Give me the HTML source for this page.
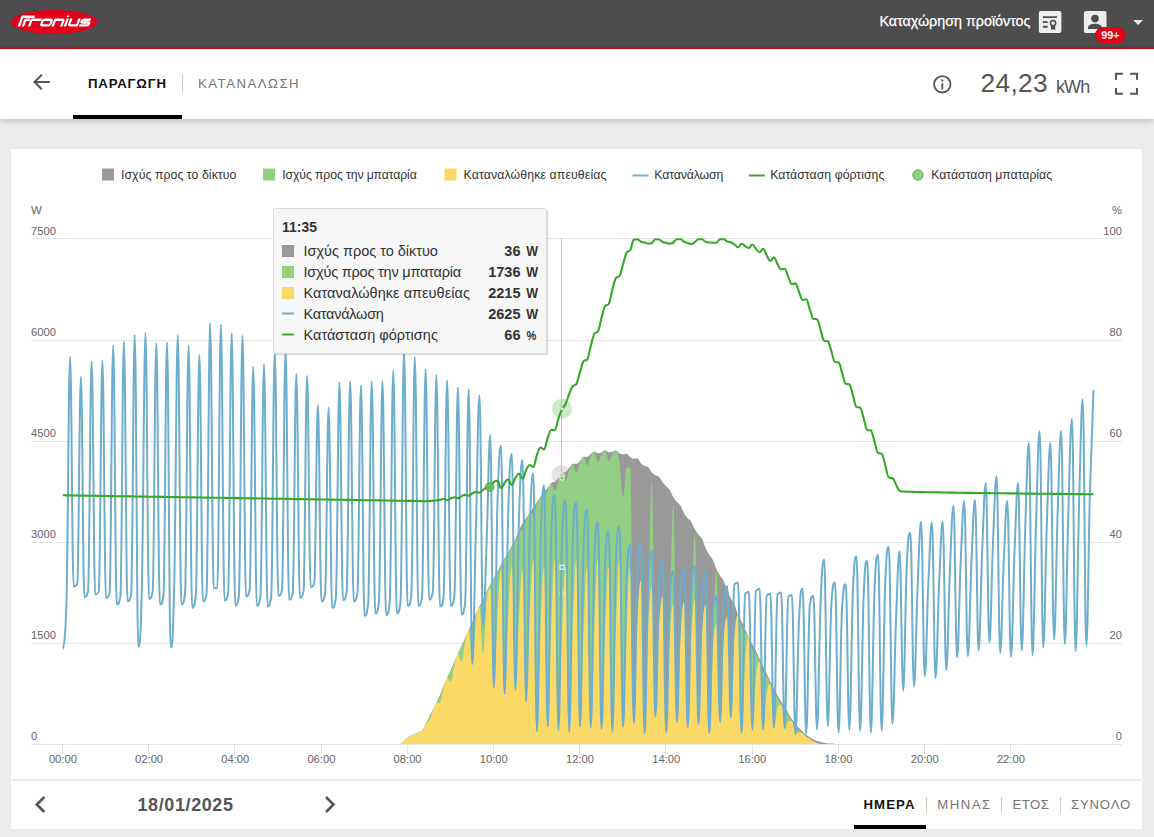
<!DOCTYPE html>
<html lang="el">
<head>
<meta charset="utf-8">
<title>Fronius Solar.web</title>
<style>
*{box-sizing:border-box;margin:0;padding:0}
html,body{width:1154px;height:837px;overflow:hidden;background:#ebeded;font-family:"Liberation Sans",sans-serif;}
#top{position:absolute;left:0;top:0;width:1154px;height:47px;background:#4d4d4d;}
#redline{position:absolute;left:0;top:47px;width:1154px;height:2px;background:#e2001a;}
#sub{position:absolute;left:0;top:49px;width:1154px;height:70px;background:#fff;box-shadow:0 2px 7px rgba(0,0,0,0.2);}
#panel{position:absolute;left:11px;top:149px;width:1131px;height:680px;background:#fff;}
.abs{position:absolute;white-space:nowrap;}
#reg{left:879.5px;top:12px;color:#fff;font-size:14.3px;line-height:18px;-webkit-text-stroke:0.25px #fff}
.tab{font-size:13.2px;letter-spacing:1.1px;line-height:16px;}
#tab1{left:88px;top:75.5px;font-weight:bold;color:#111;letter-spacing:0.8px}
#tab2{left:198px;top:75.5px;color:#757575;letter-spacing:1.5px}
#tabsep{left:182px;top:74px;width:1px;height:19px;background:#ccc;}
#tabline{left:73px;top:115px;width:109px;height:4px;background:#000;}
#kwh{left:980.5px;top:66.5px;color:#555;font-size:26.3px;line-height:32px;letter-spacing:0.35px}
#kwhu{left:1056px;top:71px;color:#555;font-size:18px;line-height:32px;letter-spacing:-0.9px}
#kwh span{font-size:16.7px;letter-spacing:0;margin-left:1px}
#date{left:137.5px;top:794.5px;font-size:18px;letter-spacing:0.6px;font-weight:bold;color:#555;line-height:20px;}
.btab{font-size:13.2px;letter-spacing:1.1px;line-height:16px;top:796.5px;color:#757575}
#b1{left:863.5px;font-weight:bold;color:#111}
#b2{left:937.2px;letter-spacing:1.5px}
#b3{left:1012.6px;letter-spacing:0.45px}
#b4{left:1071px;letter-spacing:0.8px}
.bsep{top:796.5px;width:1px;height:16px;background:#ccc}
#bline{left:854px;top:824.5px;width:72px;height:4.5px;background:#000}
#divider{left:11px;top:779px;width:1131px;height:2px;background:#ebebeb}
svg{position:absolute;left:0;top:0}
svg text{font-family:"Liberation Sans",sans-serif;}
</style>
</head>
<body>
<div id="top"></div>
<div id="redline"></div>
<div id="sub"></div>
<div id="panel"></div>
<div class="abs" id="reg">Καταχώρηση προϊόντος</div>
<div class="abs tab" id="tab1">ΠΑΡΑΓΩΓΗ</div>
<div class="abs" id="tabsep"></div>
<div class="abs tab" id="tab2">ΚΑΤΑΝΑΛΩΣΗ</div>
<div class="abs" id="tabline"></div>
<div class="abs" id="kwh">24,23</div><div class="abs" id="kwhu">kWh</div>
<div class="abs" id="divider"></div>
<div class="abs" id="date">18/01/2025</div>
<div class="abs btab" id="b1">ΗΜΕΡΑ</div>
<div class="abs bsep" style="left:926px"></div>
<div class="abs btab" id="b2">ΜΗΝΑΣ</div>
<div class="abs bsep" style="left:1001px"></div>
<div class="abs btab" id="b3">ΕΤΟΣ</div>
<div class="abs bsep" style="left:1060px"></div>
<div class="abs btab" id="b4">ΣΥΝΟΛΟ</div>
<div class="abs" id="bline"></div>

<svg width="1154" height="837" viewBox="0 0 1154 837">
<!-- logo -->
<ellipse cx="54" cy="21.9" rx="43.2" ry="12" fill="#e2001a"/>
<g transform="translate(0,26.4) skewX(-19.8) translate(0,-26.4)" fill="none" stroke="#fff" stroke-width="2.35" stroke-linejoin="round">
<path d="M18.9 26.5V16.75H31.2"/>
<path d="M22.9 26.5V19.7H27.4"/>
<path d="M29.1 26.5V19.7H39.2"/>
<rect x="40.6" y="19.7" width="9" height="5.6" rx="1.5"/>
<path d="M52.7 26.5V19.7H59.7Q61.3 19.7 61.3 21.2V26.5"/>
<path d="M64.9 18.5V26.5M64.5 15.6V17"/>
<path d="M68.5 18.5V23.8Q68.5 25.3 70.1 25.3H76.7V18.5"/>
<path d="M88.4 19.7H81.3Q79.8 19.7 79.8 21.1Q79.8 22.5 81.3 22.5H86.6Q88.1 22.5 88.1 23.9Q88.1 25.3 86.6 25.3H79"/>
</g>

<!-- top icons -->
<g>
<rect x="1038.8" y="11" width="22.6" height="22" rx="2" fill="#ededed"/>
<g stroke="#4d4d4d" stroke-width="1.9" fill="none">
<path d="M1042.9 17.1H1056.9M1042.9 22.1H1047.7M1042.9 26.8H1047.7"/>
</g>
<path d="M1051 25.5V30.3L1053.1 28.9L1055.2 30.3V25.5Z" fill="#4d4d4d"/>
<circle cx="1053.1" cy="23.1" r="2.6" fill="#ededed" stroke="#4d4d4d" stroke-width="1.5"/>
<rect x="1083.9" y="11" width="22.6" height="22" rx="2" fill="#ededed"/>
<circle cx="1095" cy="18.6" r="3.8" fill="#4d4d4d"/>
<path d="M1088 29V27.6C1088 25 1092 23.7 1095 23.7C1098 23.7 1102 25 1102 27.6V29Z" fill="#4d4d4d"/>
<rect x="1095" y="27.1" width="30.6" height="15.8" rx="7.9" fill="#e2001a"/>
<text x="1110.3" y="38.6" font-size="10.8" font-weight="bold" fill="#fff" text-anchor="middle">99+</text>
<path d="M1133.2 19.9H1143L1138.1 25Z" fill="#ececec"/>
</g>

<!-- grid -->
<g stroke="#e6e6e6" stroke-width="1" shape-rendering="crispEdges">
<line x1="31" y1="238.5" x2="1122" y2="238.5"/>
<line x1="31" y1="340.5" x2="1122" y2="340.5"/>
<line x1="31" y1="441.5" x2="1122" y2="441.5"/>
<line x1="31" y1="542.5" x2="1122" y2="542.5"/>
<line x1="31" y1="643.5" x2="1122" y2="643.5"/>
<line x1="31" y1="744.5" x2="1122" y2="744.5"/>
</g>
<g stroke="#e0e0e0" stroke-width="1" shape-rendering="crispEdges">
<line x1="62.5" y1="745" x2="62.5" y2="754"/>
<line x1="148.5" y1="745" x2="148.5" y2="754"/>
<line x1="234.5" y1="745" x2="234.5" y2="754"/>
<line x1="321.5" y1="745" x2="321.5" y2="754"/>
<line x1="407.5" y1="745" x2="407.5" y2="754"/>
<line x1="493.5" y1="745" x2="493.5" y2="754"/>
<line x1="579.5" y1="745" x2="579.5" y2="754"/>
<line x1="665.5" y1="745" x2="665.5" y2="754"/>
<line x1="752.5" y1="745" x2="752.5" y2="754"/>
<line x1="838.5" y1="745" x2="838.5" y2="754"/>
<line x1="924.5" y1="745" x2="924.5" y2="754"/>
<line x1="1010.5" y1="745" x2="1010.5" y2="754"/>

</g>
<g font-size="11.2" fill="#666">
<text x="31" y="214" font-size="11.5">W</text>
<text x="31" y="235.4">7500</text>
<text x="31" y="336.4">6000</text>
<text x="31" y="437.4">4500</text>
<text x="31" y="538.4">3000</text>
<text x="31" y="639.4">1500</text>
<text x="31" y="740.4">0</text>
<g text-anchor="end">
<text x="1122" y="214">%</text>
<text x="1122" y="235.4">100</text>
<text x="1122" y="336.4">80</text>
<text x="1122" y="437.4">60</text>
<text x="1122" y="538.4">40</text>
<text x="1122" y="639.4">20</text>
<text x="1122" y="740.4">0</text>
</g>
<g text-anchor="middle">
<text x="62.9" y="763">00:00</text>
<text x="149.1" y="763">02:00</text>
<text x="235.3" y="763">04:00</text>
<text x="321.4" y="763">06:00</text>
<text x="407.6" y="763">08:00</text>
<text x="493.8" y="763">10:00</text>
<text x="580.0" y="763">12:00</text>
<text x="666.2" y="763">14:00</text>
<text x="752.3" y="763">16:00</text>
<text x="838.5" y="763">18:00</text>
<text x="924.7" y="763">20:00</text>
<text x="1010.9" y="763">22:00</text>

</g>
</g>
<!-- chart series -->
<rect x="561" y="238" width="1" height="506" fill="#c4c4c4"/>
<path d="M400.5 744.0C400.5 744.0 402.6 742.2 404.0 740.9C405.5 739.7 406.2 738.6 407.6 737.6C409.1 736.5 409.8 736.3 411.2 735.6C412.7 734.9 413.4 734.7 414.8 734.0C416.3 733.4 417.0 733.0 418.4 732.4C419.8 731.7 420.6 732.3 422.0 730.7C423.4 729.1 424.2 727.0 425.6 724.2C427.0 721.4 427.7 719.7 429.2 716.9C430.6 714.1 431.3 712.9 432.8 710.2C434.2 707.5 434.9 706.5 436.4 703.5C437.8 700.4 438.5 698.4 440.0 695.0C441.4 691.5 442.1 689.7 443.5 686.2C445.0 682.8 445.7 681.1 447.1 677.9C448.6 674.6 449.3 673.1 450.7 669.9C452.2 666.7 452.9 665.1 454.3 661.9C455.8 658.7 456.5 657.1 457.9 653.9C459.3 650.7 460.1 649.1 461.5 645.9C462.9 642.8 463.7 641.2 465.1 638.0C466.5 634.8 467.2 633.2 468.7 630.0C470.1 626.8 470.8 625.2 472.3 622.0C473.7 618.8 474.4 617.2 475.9 614.0C477.3 610.8 478.0 609.1 479.5 606.1C480.9 603.1 481.6 601.8 483.0 598.9C484.5 596.0 485.2 594.6 486.6 591.7C488.1 588.9 488.8 587.3 490.2 584.5C491.7 581.8 492.4 580.6 493.8 578.0C495.3 575.4 496.0 574.1 497.4 571.6C498.8 569.0 499.6 567.7 501.0 565.1C502.4 562.5 503.2 561.2 504.6 558.6C506.0 556.0 506.7 554.8 508.2 552.2C509.6 549.6 510.3 548.3 511.8 545.7C513.2 543.1 513.9 542.3 515.4 539.2C516.8 536.1 517.5 533.3 519.0 530.2C520.4 527.1 521.1 526.1 522.5 523.7C524.0 521.3 524.7 520.4 526.1 518.3C527.6 516.1 528.3 515.1 529.7 512.9C531.2 510.8 531.9 509.7 533.3 507.5C534.8 505.4 535.5 504.3 536.9 502.1C538.3 500.0 539.1 498.9 540.5 496.7C541.9 494.6 542.7 493.1 544.1 491.4C545.5 489.6 546.2 489.6 547.7 487.9C549.1 486.2 549.8 484.0 551.3 482.9C552.7 481.8 553.4 482.8 554.9 481.8C556.3 480.8 557.0 479.8 558.5 478.0C559.9 476.3 560.6 474.1 562.0 473.0C563.5 471.9 564.2 472.9 565.6 471.9C567.1 470.9 567.8 469.7 569.2 468.1C570.7 466.5 571.4 464.0 572.8 463.9C574.3 463.7 575.0 463.9 576.4 463.7C577.8 463.6 578.6 462.3 580.0 460.9C581.4 459.5 582.2 457.0 583.6 456.8C585.0 456.7 585.7 456.8 587.2 456.7C588.6 456.6 589.3 454.9 590.8 453.9C592.2 452.8 592.9 451.4 594.4 451.4C595.8 451.4 596.5 453.2 598.0 453.2C599.4 453.2 600.1 452.9 601.5 452.4C603.0 451.8 603.7 450.3 605.1 450.3C606.6 450.3 607.3 452.2 608.7 452.2C610.2 452.2 610.9 452.2 612.3 451.8C613.8 451.4 614.5 450.2 615.9 450.2C617.4 450.2 618.1 452.7 619.5 453.5C620.9 454.2 621.7 454.2 623.1 454.2C624.5 454.2 625.3 453.8 626.7 453.8C628.1 453.8 628.8 456.6 630.3 457.6C631.7 458.6 632.4 458.7 633.9 458.7C635.3 458.7 636.0 458.6 637.5 458.6C638.9 458.6 639.6 462.1 641.1 463.6C642.5 465.1 643.2 465.3 644.6 466.0C646.1 466.7 646.8 466.0 648.2 467.2C649.7 468.4 650.4 470.8 651.8 472.4C653.3 473.9 654.0 474.3 655.4 475.2C656.9 476.1 657.6 475.4 659.0 476.8C660.4 478.2 661.2 480.4 662.6 482.3C664.0 484.3 664.8 484.9 666.2 486.4C667.6 487.9 668.3 487.7 669.8 489.9C671.2 492.1 671.9 494.9 673.4 497.3C674.8 499.7 675.5 500.4 677.0 502.1C678.4 503.8 679.1 503.5 680.6 505.8C682.0 508.0 682.7 510.9 684.1 513.4C685.6 515.9 686.3 516.5 687.7 518.3C689.2 520.0 689.9 519.7 691.3 521.9C692.8 524.2 693.5 527.0 694.9 529.5C696.4 532.0 697.1 532.5 698.5 534.4C699.9 536.3 700.7 536.3 702.1 539.0C703.5 541.8 704.3 545.1 705.7 548.2C707.1 551.4 707.8 552.4 709.3 554.7C710.7 557.1 711.4 557.1 712.9 560.0C714.3 562.9 715.0 566.1 716.5 569.3C717.9 572.4 718.6 573.4 720.1 575.8C721.5 578.1 722.2 578.0 723.6 581.1C725.1 584.1 725.8 587.4 727.2 590.8C728.7 594.2 729.4 595.5 730.8 598.2C732.3 600.9 733.0 601.2 734.4 604.4C735.9 607.7 736.6 611.1 738.0 614.5C739.4 617.9 740.2 618.5 741.6 621.5C743.0 624.5 743.8 626.3 745.2 629.4C746.6 632.6 747.3 634.3 748.8 637.3C750.2 640.3 750.9 641.5 752.4 644.3C753.8 647.0 754.5 648.2 756.0 651.1C757.4 654.0 758.1 655.8 759.6 658.8C761.0 661.9 761.7 663.3 763.1 666.3C764.6 669.3 765.3 670.8 766.7 673.7C768.2 676.7 768.9 678.2 770.3 681.2C771.8 684.1 772.5 685.7 773.9 688.6C775.4 691.4 776.1 692.9 777.5 695.5C778.9 698.0 779.7 699.0 781.1 701.4C782.5 703.7 783.3 704.9 784.7 707.3C786.1 709.6 786.8 710.8 788.3 713.2C789.7 715.5 790.4 716.8 791.9 719.1C793.3 721.3 794.0 722.6 795.5 724.4C796.9 726.1 797.6 726.5 799.1 728.0C800.5 729.4 801.2 730.2 802.6 731.5C804.1 732.9 804.8 733.7 806.2 734.8C807.7 735.9 808.4 736.2 809.8 737.2C811.3 738.1 812.0 738.8 813.4 739.6C814.9 740.3 815.6 740.6 817.0 741.1C818.4 741.5 819.2 741.6 820.6 741.9C822.0 742.2 822.8 742.4 824.2 742.7C825.6 743.0 826.3 743.2 827.8 743.4C829.2 743.6 829.9 743.5 831.4 743.6C832.8 743.7 833.5 743.8 835.0 743.9C836.4 744.0 838.6 744.0 838.6 744.0L838.6 744.0 L400.5 744.0 Z" fill="#999999"/>
<circle cx="561.5" cy="475" r="10" fill="#999" opacity="0.28"/>
<circle cx="562" cy="475.3" r="2.3" fill="#999" stroke="#fff" stroke-width="1"/>
<path d="M400.5 744.0C400.5 744.0 402.6 742.2 404.0 740.9C405.5 739.7 406.2 738.6 407.6 737.6C409.1 736.6 409.8 736.7 411.2 736.0C412.7 735.2 413.4 734.7 414.8 734.0C416.3 733.3 417.0 732.9 418.4 732.4C419.8 731.8 420.6 732.4 422.0 731.2C423.4 730.1 424.2 726.9 425.6 724.2C427.0 721.5 427.7 720.4 429.2 717.7C430.6 715.1 431.3 713.9 432.8 711.0C434.2 708.2 434.9 706.5 436.4 703.5C437.8 700.4 438.5 699.1 440.0 695.8C441.4 692.5 442.1 690.6 443.5 687.0C445.0 683.5 445.7 681.1 447.1 677.9C448.6 674.6 449.3 673.7 450.7 670.7C452.2 667.7 452.9 666.1 454.3 662.7C455.8 659.4 456.5 657.1 457.9 653.9C459.3 650.7 460.1 649.8 461.5 646.7C462.9 643.7 463.7 642.1 465.1 638.8C466.5 635.4 467.2 633.2 468.7 630.0C470.1 626.8 470.8 625.8 472.3 622.8C473.7 619.8 474.4 618.0 475.9 614.8C477.3 611.6 478.0 609.9 479.5 606.9C480.9 603.9 481.6 602.6 483.0 599.7C484.5 596.8 485.2 595.4 486.6 592.5C488.1 589.7 488.8 588.1 490.2 585.3C491.7 582.6 492.4 581.4 493.8 578.8C495.3 576.2 496.0 574.9 497.4 572.4C498.8 569.8 499.6 568.5 501.0 565.9C502.4 563.3 503.2 562.0 504.6 559.4C506.0 556.8 506.7 555.6 508.2 553.0C509.6 550.4 510.3 548.8 511.8 546.5C513.2 544.2 513.9 544.6 515.4 541.4C516.8 538.3 517.5 531.7 519.0 530.7C520.4 529.7 521.1 530.7 522.5 529.7C524.0 528.7 524.7 523.7 526.1 520.5C527.6 517.2 528.3 513.4 529.7 513.4C531.2 513.4 531.9 513.5 533.3 513.5C534.8 513.5 535.5 507.6 536.9 504.3C538.3 501.1 539.1 497.2 540.5 497.2C541.9 497.2 542.7 497.4 544.1 497.4C545.5 497.4 546.2 492.9 547.7 490.1C549.1 487.3 549.8 483.4 551.3 483.4C552.7 483.4 553.4 490.6 554.9 490.6C556.3 490.6 557.0 483.6 558.5 480.2C559.9 476.8 560.6 473.5 562.0 473.5C563.5 473.5 564.2 480.7 565.6 480.7C567.1 480.7 567.8 473.6 569.2 470.3C570.7 467.0 571.4 464.4 572.8 464.4C574.3 464.4 575.0 472.5 576.4 472.5C577.8 472.5 578.6 466.1 580.0 463.1C581.4 460.1 582.2 457.3 583.6 457.3C585.0 457.3 585.7 465.5 587.2 465.5C588.6 465.5 589.3 458.8 590.8 456.1C592.2 453.3 592.9 451.9 594.4 451.9C595.8 451.9 596.5 462.0 598.0 462.0C599.4 462.0 600.1 456.8 601.5 454.6C603.0 452.3 603.7 450.8 605.1 450.8C606.6 450.8 607.3 461.0 608.7 461.0C610.2 461.0 610.9 456.1 612.3 454.0C613.8 451.9 614.5 450.7 615.9 450.7C617.4 450.7 618.1 452.9 619.5 462.3C620.9 471.6 621.7 497.5 623.1 497.5C624.5 497.5 625.3 467.5 626.7 467.5C628.1 467.5 628.8 467.5 630.3 467.5C631.7 467.5 632.4 722.9 633.9 722.9C635.3 722.9 636.0 649.0 637.5 620.6C638.9 592.2 639.6 580.8 641.1 580.8C642.5 580.8 643.2 733.1 644.6 733.1C646.1 733.1 646.8 659.8 648.2 609.4C649.7 559.0 650.4 481.2 651.8 481.2C653.3 481.2 654.0 685.9 655.4 685.9C656.9 685.9 657.6 647.7 659.0 629.7C660.4 611.7 661.2 596.0 662.6 596.0C664.0 596.0 664.8 732.6 666.2 732.6C667.6 732.6 668.3 668.1 669.8 622.4C671.2 576.8 671.9 504.5 673.4 504.5C674.8 504.5 675.5 693.6 677.0 693.6C678.4 693.6 679.1 653.9 680.6 635.6C682.0 617.3 682.7 602.0 684.1 602.0C685.6 602.0 686.3 727.5 687.7 727.5C689.2 727.5 689.9 660.9 691.3 622.4C692.8 583.9 693.5 535.0 694.9 535.0C696.4 535.0 697.1 699.4 698.5 699.4C699.9 699.4 700.7 653.7 702.1 634.8C703.5 615.9 704.3 605.1 705.7 605.1C707.1 605.1 707.8 733.1 709.3 733.1C710.7 733.1 711.4 673.5 712.9 641.1C714.3 608.7 715.0 571.3 716.5 571.3C717.9 571.3 718.6 702.2 720.1 702.2C721.5 702.2 722.2 659.8 723.6 642.6C725.1 625.4 725.8 616.2 727.2 616.2C728.7 616.2 729.4 717.5 730.8 717.5C732.3 717.5 733.0 657.5 734.4 636.9C735.9 616.3 736.6 614.5 738.0 614.5C739.4 614.5 740.2 623.5 741.6 627.0C743.0 630.5 743.8 629.9 745.2 631.9C746.6 634.0 747.3 633.7 748.8 637.3C750.2 640.9 750.9 646.5 752.4 649.8C753.8 653.0 754.5 651.3 756.0 653.6C757.4 655.9 758.1 657.7 759.6 661.3C761.0 665.0 761.7 668.8 763.1 671.8C764.6 674.8 765.3 673.9 766.7 676.2C768.2 678.6 768.9 680.1 770.3 683.7C771.8 687.2 772.5 691.2 773.9 694.1C775.4 696.9 776.1 696.0 777.5 698.0C778.9 699.9 779.7 700.9 781.1 703.9C782.5 706.8 783.3 710.4 784.7 712.8C786.1 715.1 786.8 714.0 788.3 715.7C789.7 717.3 790.4 718.2 791.9 721.1C793.3 723.9 794.0 729.3 795.5 729.9C796.9 730.5 797.6 729.9 799.1 730.5C800.5 731.0 801.2 732.3 802.6 733.5C804.1 734.8 804.8 735.7 806.2 736.8C807.7 737.9 808.4 738.2 809.8 739.2C811.3 740.1 812.0 740.8 813.4 741.6C814.9 742.3 815.6 742.6 817.0 743.1C818.4 743.5 819.2 743.8 820.6 743.9C822.0 744.0 822.8 744.0 824.2 744.0C825.6 744.0 826.3 744.0 827.8 744.0C829.2 744.0 829.9 744.0 831.4 744.0C832.8 744.0 833.5 744.0 835.0 744.0C836.4 744.0 838.6 744.0 838.6 744.0L838.6 744.0 L400.5 744.0 Z" fill="#92cf84"/>
<circle cx="562" cy="478" r="2.2" fill="#7cc46c" stroke="#fff" stroke-width="1"/>
<path d="M400.5 744.0C400.5 744.0 402.6 742.2 404.0 740.9C405.5 739.7 406.2 738.6 407.6 737.6C409.1 736.6 409.8 736.7 411.2 736.0C412.7 735.2 413.4 734.7 414.8 734.0C416.3 733.3 417.0 732.9 418.4 732.4C419.8 731.8 420.6 732.4 422.0 731.2C423.4 730.1 424.2 726.2 425.6 724.2C427.0 722.2 427.7 723.8 429.2 721.3C430.6 718.7 431.3 715.1 432.8 711.6C434.2 708.0 434.9 704.1 436.4 703.5C437.8 702.8 438.5 703.5 440.0 702.8C441.4 702.1 442.1 693.5 443.5 688.6C445.0 683.6 445.7 677.9 447.1 677.9C448.6 677.9 449.3 681.7 450.7 681.7C452.2 681.7 452.9 670.7 454.3 665.2C455.8 659.6 456.5 653.9 457.9 653.9C459.3 653.9 460.1 661.6 461.5 661.6C462.9 661.6 463.7 648.5 465.1 642.2C466.5 635.9 467.2 630.0 468.7 630.0C470.1 630.0 470.8 664.0 472.3 664.0C473.7 664.0 474.4 630.2 475.9 618.9C477.3 607.6 478.0 607.6 479.5 607.6C480.9 607.6 481.6 653.5 483.0 653.5C484.5 653.5 485.2 614.5 486.6 601.5C488.1 588.5 488.8 588.5 490.2 588.5C491.7 588.5 492.4 687.8 493.8 687.8C495.3 687.8 496.0 640.4 497.4 616.8C498.8 593.1 499.6 569.5 501.0 569.5C502.4 569.5 503.2 694.0 504.6 694.0C506.0 694.0 506.7 642.9 508.2 617.3C509.6 591.7 510.3 566.2 511.8 566.2C513.2 566.2 513.9 690.2 515.4 690.2C516.8 690.2 517.5 642.2 519.0 618.2C520.4 594.2 521.1 570.2 522.5 570.2C524.0 570.2 524.7 701.5 526.1 701.5C527.6 701.5 528.3 644.8 529.7 616.5C531.2 588.1 531.9 559.8 533.3 559.8C534.8 559.8 535.5 731.5 536.9 731.5C538.3 731.5 539.1 665.5 540.5 632.5C541.9 599.5 542.7 566.5 544.1 566.5C545.5 566.5 546.2 726.5 547.7 726.5C549.1 726.5 549.8 659.6 551.3 626.1C552.7 592.7 553.4 559.2 554.9 559.2C556.3 559.2 557.0 730.2 558.5 730.2C559.9 730.2 560.6 664.9 562.0 632.3C563.5 599.6 564.2 566.9 565.6 566.9C567.1 566.9 567.8 731.5 569.2 731.5C570.7 731.5 571.4 662.5 572.8 628.0C574.3 593.5 575.0 559.0 576.4 559.0C577.8 559.0 578.6 726.5 580.0 726.5C581.4 726.5 582.2 662.7 583.6 630.8C585.0 598.9 585.7 567.0 587.2 567.0C588.6 567.0 589.3 727.8 590.8 727.8C592.2 727.8 592.9 660.3 594.4 626.6C595.8 592.8 596.5 559.1 598.0 559.1C599.4 559.1 600.1 729.0 601.5 729.0C603.0 729.0 603.7 664.1 605.1 631.6C606.6 599.2 607.3 566.7 608.7 566.7C610.2 566.7 610.9 731.5 612.3 731.5C613.8 731.5 614.5 662.7 615.9 628.3C617.4 593.9 618.1 559.5 619.5 559.5C620.9 559.5 621.7 726.7 623.1 726.7C624.5 726.7 625.3 662.5 626.7 630.4C628.1 598.3 628.8 566.2 630.3 566.2C631.7 566.2 632.4 722.9 633.9 722.9C635.3 722.9 636.0 649.0 637.5 620.6C638.9 592.2 639.6 580.8 641.1 580.8C642.5 580.8 643.2 733.1 644.6 733.1C646.1 733.1 646.8 657.6 648.2 628.5C649.7 599.5 650.4 587.9 651.8 587.9C653.3 587.9 654.0 716.5 655.4 716.5C656.9 716.5 657.6 653.8 659.0 629.7C660.4 605.6 661.2 596.0 662.6 596.0C664.0 596.0 664.8 732.6 666.2 732.6C667.6 732.6 668.3 665.8 669.8 640.1C671.2 614.4 671.9 604.1 673.4 604.1C674.8 604.1 675.5 721.8 677.0 721.8C678.4 721.8 679.1 659.5 680.6 635.6C682.0 611.6 682.7 602.0 684.1 602.0C685.6 602.0 686.3 727.5 687.7 727.5C689.2 727.5 689.9 661.0 691.3 635.4C692.8 609.8 693.5 599.6 694.9 599.6C696.4 599.6 697.1 724.0 698.5 724.0C699.9 724.0 700.7 658.6 702.1 634.8C703.5 611.0 704.3 605.1 705.7 605.1C707.1 605.1 707.8 733.1 709.3 733.1C710.7 733.1 711.4 673.3 712.9 651.5C714.3 629.8 715.0 624.3 716.5 624.3C717.9 624.3 718.6 721.8 720.1 721.8C721.5 721.8 722.2 663.7 723.6 642.6C725.1 621.5 725.8 616.2 727.2 616.2C728.7 616.2 729.4 717.5 730.8 717.5C732.3 717.5 733.0 660.9 734.4 640.3C735.9 619.7 736.6 614.5 738.0 614.5C739.4 614.5 740.2 733.0 741.6 733.0C743.0 733.0 743.8 680.4 745.2 661.2C746.6 642.1 747.3 637.3 748.8 637.3C750.2 637.3 750.9 729.4 752.4 729.4C753.8 729.4 754.5 690.0 756.0 676.5C757.4 663.0 758.1 661.8 759.6 661.8C761.0 661.8 761.7 729.4 763.1 729.4C764.6 729.4 765.3 702.3 766.7 693.2C768.2 684.2 768.9 684.2 770.3 684.2C771.8 684.2 772.5 727.7 773.9 727.7C775.4 727.7 776.1 711.5 777.5 707.9C778.9 704.4 779.7 704.4 781.1 704.4C782.5 704.4 783.3 728.3 784.7 728.3C786.1 728.3 786.8 721.7 788.3 721.4C789.7 721.1 790.4 721.1 791.9 721.1C793.3 721.1 794.0 734.2 795.5 734.2C796.9 734.2 797.6 732.2 799.1 732.2C800.5 732.2 801.2 732.6 802.6 733.5C804.1 734.5 804.8 735.7 806.2 736.8C807.7 737.9 808.4 738.2 809.8 739.2C811.3 740.1 812.0 740.8 813.4 741.6C814.9 742.3 815.6 742.6 817.0 743.1C818.4 743.5 819.2 743.8 820.6 743.9C822.0 744.0 822.8 744.0 824.2 744.0C825.6 744.0 826.3 744.0 827.8 744.0C829.2 744.0 829.9 744.0 831.4 744.0C832.8 744.0 833.5 744.0 835.0 744.0C836.4 744.0 838.6 744.0 838.6 744.0L838.6 744.0 L400.5 744.0 Z" fill="#fad967"/>
<path d="M562 590.5l3 3-3 3-3-3z" fill="#fad967" stroke="#fff" stroke-width="0.8" opacity="0.55"/>
<path d="M62.9 649.0C62.9 649.0 65.1 649.0 66.5 601.0C67.9 553.0 68.6 357.0 70.1 357.0C71.5 357.0 72.2 586.5 73.7 586.5C75.1 586.5 75.8 586.5 77.3 583.5C78.7 580.5 79.4 377.0 80.9 377.0C82.3 377.0 83.0 597.2 84.4 597.2C85.9 597.2 86.6 597.2 88.0 591.5C89.5 585.8 90.2 361.2 91.6 361.2C93.1 361.2 93.8 594.5 95.2 594.5C96.7 594.5 97.4 594.5 98.8 591.0C100.2 587.5 101.0 360.5 102.4 360.5C103.8 360.5 104.6 598.0 106.0 598.0C107.4 598.0 108.1 598.0 109.6 592.8C111.0 587.5 111.7 345.5 113.2 345.5C114.6 345.5 115.3 604.5 116.8 604.5C118.2 604.5 118.9 604.5 120.4 596.5C121.8 588.5 122.5 341.2 123.9 341.2C125.4 341.2 126.1 601.2 127.5 601.2C129.0 601.2 129.7 601.2 131.1 595.2C132.6 589.2 133.3 335.0 134.7 335.0C136.2 335.0 136.9 646.5 138.3 646.5C139.7 646.5 140.5 646.5 141.9 585.0C143.3 523.5 144.1 333.0 145.5 333.0C146.9 333.0 147.6 599.0 149.1 599.0C150.5 599.0 151.2 599.0 152.7 591.5C154.1 584.0 154.8 343.2 156.3 343.2C157.7 343.2 158.4 604.5 159.9 604.5C161.3 604.5 162.0 604.5 163.4 596.5C164.9 588.5 165.6 342.5 167.0 342.5C168.5 342.5 169.2 647.2 170.6 647.2C172.1 647.2 172.8 647.2 174.2 585.0C175.7 522.8 176.4 335.0 177.8 335.0C179.2 335.0 180.0 604.5 181.4 604.5C182.8 604.5 183.6 604.5 185.0 594.0C186.4 583.5 187.1 345.5 188.6 345.5C190.0 345.5 190.7 607.8 192.2 607.8C193.6 607.8 194.3 607.8 195.8 596.5C197.2 585.2 197.9 355.0 199.4 355.0C200.8 355.0 201.5 601.5 202.9 601.5C204.4 601.5 205.1 601.5 206.5 594.0C208.0 586.5 208.7 323.2 210.1 323.2C211.6 323.2 212.3 588.2 213.7 588.2C215.2 588.2 215.9 588.2 217.3 588.2C218.7 588.2 219.5 324.5 220.9 324.5C222.3 324.5 223.1 600.5 224.5 600.5C225.9 600.5 226.6 600.5 228.1 594.0C229.5 587.5 230.2 333.2 231.7 333.2C233.1 333.2 233.8 605.5 235.3 605.5C236.7 605.5 237.4 605.5 238.9 596.5C240.3 587.5 241.0 335.5 242.5 335.5C243.9 335.5 244.6 596.5 246.0 596.5C247.5 596.5 248.2 596.5 249.6 590.2C251.1 584.0 251.8 366.8 253.2 366.8C254.7 366.8 255.4 605.8 256.8 605.8C258.3 605.8 259.0 605.8 260.4 596.5C261.8 587.2 262.6 364.5 264.0 364.5C265.4 364.5 266.2 606.5 267.6 606.5C269.0 606.5 269.7 606.5 271.2 596.5C272.6 586.5 273.3 351.0 274.8 351.0C276.2 351.0 276.9 595.8 278.4 595.8C279.8 595.8 280.5 595.8 282.0 590.2C283.4 584.8 284.1 351.0 285.5 351.0C287.0 351.0 287.7 599.8 289.1 599.8C290.6 599.8 291.3 599.8 292.7 592.8C294.2 585.8 294.9 373.8 296.3 373.8C297.8 373.8 298.5 597.8 299.9 597.8C301.3 597.8 302.1 597.8 303.5 591.5C304.9 585.2 305.7 375.8 307.1 375.8C308.5 375.8 309.2 587.0 310.7 587.0C312.1 587.0 312.8 587.0 314.3 582.8C315.7 578.5 316.4 405.0 317.9 405.0C319.3 405.0 320.0 601.5 321.5 601.5C322.9 601.5 323.6 601.5 325.0 594.0C326.5 586.5 327.2 407.5 328.6 407.5C330.1 407.5 330.8 607.8 332.2 607.8C333.7 607.8 334.4 607.8 335.8 597.8C337.3 587.8 338.0 382.5 339.4 382.5C340.8 382.5 341.6 600.0 343.0 600.0C344.4 600.0 345.2 600.0 346.6 593.0C348.0 586.0 348.7 381.2 350.2 381.2C351.6 381.2 352.3 601.5 353.8 601.5C355.2 601.5 355.9 601.5 357.4 594.0C358.8 586.5 359.5 385.5 361.0 385.5C362.4 385.5 363.1 616.0 364.5 616.0C366.0 616.0 366.7 616.0 368.1 604.0C369.6 592.0 370.3 381.2 371.7 381.2C373.2 381.2 373.9 613.5 375.3 613.5C376.8 613.5 377.5 613.5 378.9 602.0C380.3 590.5 381.1 381.2 382.5 381.2C383.9 381.2 384.7 615.2 386.1 615.2C387.5 615.2 388.2 615.2 389.7 603.0C391.1 590.8 391.8 370.5 393.3 370.5C394.7 370.5 395.4 613.5 396.9 613.5C398.3 613.5 399.0 613.5 400.5 602.0C401.9 590.5 402.6 351.0 404.0 351.0C405.5 351.0 406.2 606.0 407.6 606.0C409.1 606.0 409.8 606.0 411.2 597.0C412.7 588.0 413.4 357.0 414.8 357.0C416.3 357.0 417.0 606.0 418.4 606.0C419.8 606.0 420.6 606.0 422.0 597.0C423.4 588.0 424.2 369.5 425.6 369.5C427.0 369.5 427.7 599.8 429.2 599.8C430.6 599.8 431.3 599.8 432.8 592.0C434.2 584.2 434.9 375.0 436.4 375.0C437.8 375.0 438.5 606.5 440.0 606.5C441.4 606.5 442.1 606.5 443.5 598.0C445.0 589.5 445.7 380.5 447.1 380.5C448.6 380.5 449.3 606.0 450.7 606.0C452.2 606.0 452.9 606.0 454.3 597.0C455.8 588.0 456.5 387.5 457.9 387.5C459.3 387.5 460.1 614.5 461.5 614.5C462.9 614.5 463.7 614.5 465.1 603.0C466.5 591.5 467.2 389.2 468.7 389.2C470.1 389.2 470.8 664.0 472.3 664.0C473.7 664.0 474.4 583.5 475.9 529.8C477.3 476.0 478.0 395.5 479.5 395.5C480.9 395.5 481.6 625.0 483.0 625.0C484.5 625.0 485.2 580.6 486.6 542.6C488.1 504.6 488.8 435.0 490.2 435.0C491.7 435.0 492.4 687.8 493.8 687.8C495.3 687.8 496.0 554.5 497.4 506.1C498.8 457.6 499.6 445.5 501.0 445.5C502.4 445.5 503.2 694.0 504.6 694.0C506.0 694.0 506.7 561.9 508.2 513.8C509.6 465.8 510.3 453.8 511.8 453.8C513.2 453.8 513.9 690.2 515.4 690.2C516.8 690.2 517.5 563.6 519.0 517.6C520.4 471.5 521.1 460.0 522.5 460.0C524.0 460.0 524.7 701.5 526.1 701.5C527.6 701.5 528.3 576.0 529.7 530.3C531.2 484.7 531.9 473.2 533.3 473.2C534.8 473.2 535.5 731.5 536.9 731.5C538.3 731.5 539.1 595.9 540.5 546.6C541.9 497.3 542.7 485.0 544.1 485.0C545.5 485.0 546.2 726.5 547.7 726.5C549.1 726.5 549.8 573.7 551.3 534.4C552.7 495.0 553.4 495.0 554.9 495.0C556.3 495.0 557.0 730.2 558.5 730.2C559.9 730.2 560.6 578.3 562.0 539.1C563.5 500.0 564.2 500.0 565.6 500.0C567.1 500.0 567.8 731.5 569.2 731.5C570.7 731.5 571.4 580.4 572.8 541.4C574.3 502.5 575.0 502.5 576.4 502.5C577.8 502.5 578.6 726.5 580.0 726.5C581.4 726.5 582.2 583.6 583.6 546.8C585.0 510.0 585.7 510.0 587.2 510.0C588.6 510.0 589.3 727.8 590.8 727.8C592.2 727.8 592.9 592.3 594.4 557.4C595.8 522.5 596.5 522.5 598.0 522.5C599.4 522.5 600.1 729.0 601.5 729.0C603.0 729.0 603.7 598.5 605.1 564.9C606.6 531.2 607.3 531.2 608.7 531.2C610.2 531.2 610.9 731.5 612.3 731.5C613.8 731.5 614.5 596.0 615.9 561.1C617.4 526.2 618.1 526.2 619.5 526.2C620.9 526.2 621.7 726.7 623.1 726.7C624.5 726.7 625.3 606.8 626.7 575.9C628.1 545.0 628.8 545.0 630.3 545.0C631.7 545.0 632.4 722.9 633.9 722.9C635.3 722.9 636.0 603.8 637.5 573.2C638.9 542.5 639.6 542.5 641.1 542.5C642.5 542.5 643.2 733.1 644.6 733.1C646.1 733.1 646.8 613.1 648.2 582.2C649.7 551.2 650.4 551.2 651.8 551.2C653.3 551.2 654.0 716.5 655.4 716.5C656.9 716.5 657.6 614.0 659.0 587.6C660.4 561.2 661.2 561.2 662.6 561.2C664.0 561.2 664.8 732.6 666.2 732.6C667.6 732.6 668.3 626.1 669.8 598.7C671.2 571.2 671.9 571.2 673.4 571.2C674.8 571.2 675.5 721.8 677.0 721.8C678.4 721.8 679.1 620.8 680.6 594.8C682.0 568.8 682.7 568.8 684.1 568.8C685.6 568.8 686.3 727.5 687.7 727.5C689.2 727.5 689.9 620.7 691.3 593.2C692.8 565.8 693.5 565.8 694.9 565.8C696.4 565.8 697.1 724.0 698.5 724.0C699.9 724.0 700.7 624.0 702.1 598.3C703.5 572.5 704.3 572.5 705.7 572.5C707.1 572.5 707.8 733.1 709.3 733.1C710.7 733.1 711.4 629.1 712.9 612.7C714.3 596.2 715.0 596.2 716.5 596.2C717.9 596.2 718.6 721.8 720.1 721.8C721.5 721.8 722.2 618.8 723.6 602.5C725.1 586.2 725.8 586.2 727.2 586.2C728.7 586.2 729.4 717.5 730.8 717.5C732.3 717.5 733.0 586.5 734.4 584.5C735.9 582.5 736.6 582.5 738.0 582.5C739.4 582.5 740.2 733.0 741.6 733.0C743.0 733.0 743.8 596.0 745.2 593.9C746.6 591.8 747.3 591.8 748.8 591.8C750.2 591.8 750.9 729.4 752.4 729.4C753.8 729.4 754.5 593.0 756.0 590.9C757.4 588.8 758.1 588.8 759.6 588.8C761.0 588.8 761.7 729.4 763.1 729.4C764.6 729.4 765.3 597.8 766.7 595.8C768.2 593.8 768.9 593.8 770.3 593.8C771.8 593.8 772.5 727.7 773.9 727.7C775.4 727.7 776.1 596.6 777.5 594.5C778.9 592.5 779.7 592.5 781.1 592.5C782.5 592.5 783.3 728.3 784.7 728.3C786.1 728.3 786.8 599.0 788.3 597.0C789.7 595.0 790.4 595.0 791.9 595.0C793.3 595.0 794.0 734.2 795.5 734.2C796.9 734.2 797.6 646.9 799.1 617.8C800.5 588.8 801.2 588.8 802.6 588.8C804.1 588.8 804.8 733.7 806.2 733.7C807.7 733.7 808.4 615.1 809.8 605.4C811.3 595.8 812.0 595.8 813.4 595.8C814.9 595.8 815.6 729.4 817.0 729.4C818.4 729.4 819.2 636.0 820.6 602.0C822.0 568.0 822.8 559.5 824.2 559.5C825.6 559.5 826.3 726.0 827.8 726.0C829.2 726.0 829.9 625.5 831.4 604.0C832.8 582.5 833.5 582.5 835.0 582.5C836.4 582.5 837.1 732.6 838.6 732.6C840.0 732.6 840.7 628.8 842.1 606.5C843.6 584.2 844.3 584.2 845.7 584.2C847.2 584.2 847.9 730.0 849.3 730.0C850.8 730.0 851.5 625.8 852.9 591.0C854.4 556.2 855.1 556.2 856.5 556.2C857.9 556.2 858.7 730.8 860.1 730.8C861.5 730.8 862.3 628.8 863.7 594.8C865.1 560.8 865.8 560.8 867.3 560.8C868.7 560.8 869.4 732.5 870.9 732.5C872.3 732.5 873.0 626.0 874.5 590.5C875.9 555.0 876.6 555.0 878.1 555.0C879.5 555.0 880.2 730.8 881.6 730.8C883.1 730.8 883.8 620.5 885.2 583.8C886.7 547.0 887.4 547.0 888.8 547.0C890.3 547.0 891.0 723.8 892.4 723.8C893.9 723.8 894.6 654.8 896.0 620.2C897.4 585.8 898.2 551.2 899.6 551.2C901.0 551.2 901.8 690.8 903.2 690.8C904.6 690.8 905.3 596.1 906.8 564.5C908.2 533.0 908.9 533.0 910.4 533.0C911.8 533.0 912.5 686.8 914.0 686.8C915.4 686.8 916.1 620.8 917.6 587.8C919.0 554.8 919.7 521.8 921.1 521.8C922.6 521.8 923.3 676.2 924.7 676.2C926.2 676.2 926.9 614.8 928.3 584.0C929.8 553.3 930.5 522.5 931.9 522.5C933.4 522.5 934.1 678.0 935.5 678.0C936.9 678.0 937.7 615.5 939.1 584.2C940.5 553.0 941.3 521.8 942.7 521.8C944.1 521.8 944.8 670.0 946.3 670.0C947.7 670.0 948.4 604.2 949.9 571.3C951.3 538.4 952.0 505.5 953.5 505.5C954.9 505.5 955.6 657.5 957.1 657.5C958.5 657.5 959.2 595.0 960.6 563.8C962.1 532.5 962.8 501.2 964.2 501.2C965.7 501.2 966.4 656.2 967.8 656.2C969.3 656.2 970.0 593.8 971.4 562.5C972.9 531.2 973.6 500.0 975.0 500.0C976.5 500.0 977.2 650.5 978.6 650.5C980.0 650.5 980.8 583.6 982.2 550.1C983.6 516.7 984.4 483.2 985.8 483.2C987.2 483.2 987.9 642.5 989.4 642.5C990.8 642.5 991.5 576.0 993.0 542.8C994.4 509.5 995.1 476.2 996.6 476.2C998.0 476.2 998.7 653.0 1000.2 653.0C1001.6 653.0 1002.3 592.1 1003.7 561.6C1005.2 531.2 1005.9 500.8 1007.3 500.8C1008.8 500.8 1009.5 657.0 1010.9 657.0C1012.4 657.0 1013.1 587.4 1014.5 552.6C1016.0 517.8 1016.7 483.0 1018.1 483.0C1019.5 483.0 1020.3 650.5 1021.7 650.5C1023.1 650.5 1023.9 567.6 1025.3 526.1C1026.7 484.7 1027.4 443.2 1028.9 443.2C1030.3 443.2 1031.0 655.5 1032.5 655.5C1033.9 655.5 1034.6 565.8 1036.1 521.0C1037.5 476.1 1038.2 431.2 1039.7 431.2C1041.1 431.2 1041.8 647.5 1043.2 647.5C1044.7 647.5 1045.4 565.8 1046.8 525.0C1048.3 484.1 1049.0 443.2 1050.4 443.2C1051.9 443.2 1052.6 639.5 1054.0 639.5C1055.5 639.5 1056.2 556.0 1057.6 514.2C1059.0 472.5 1059.8 430.8 1061.2 430.8C1062.6 430.8 1063.4 644.5 1064.8 644.5C1066.2 644.5 1066.9 554.3 1068.4 509.2C1069.8 464.1 1070.5 419.0 1072.0 419.0C1073.4 419.0 1074.1 651.2 1075.6 651.2C1077.0 651.2 1077.7 550.4 1079.2 500.1C1080.6 449.6 1081.3 399.2 1082.7 399.2C1084.2 399.2 1084.9 645.8 1086.3 645.8C1087.8 645.8 1088.5 543.5 1089.9 492.3C1091.4 441.2 1093.5 390.0 1093.5 390.0" fill="none" stroke="#6dadcd" stroke-width="2" stroke-linejoin="round"/>
<rect x="560" y="565.2" width="4" height="4" fill="#6dadcd" stroke="#fff" stroke-width="1" opacity="0.95"/>
<circle cx="562" cy="408.7" r="10" fill="#92cf84" opacity="0.45"/>
<path d="M62.9 495.3C62.9 495.3 65.1 495.3 66.5 495.4C67.9 495.4 68.6 495.4 70.1 495.4C71.5 495.4 72.2 495.5 73.7 495.5C75.1 495.5 75.8 495.5 77.3 495.5C78.7 495.6 79.4 495.6 80.9 495.6C82.3 495.6 83.0 495.6 84.4 495.6C85.9 495.7 86.6 495.7 88.0 495.7C89.5 495.7 90.2 495.7 91.6 495.8C93.1 495.8 93.8 495.8 95.2 495.8C96.7 495.8 97.4 495.9 98.8 495.9C100.2 495.9 101.0 495.9 102.4 495.9C103.8 496.0 104.6 496.0 106.0 496.0C107.4 496.0 108.1 496.0 109.6 496.1C111.0 496.1 111.7 496.1 113.2 496.1C114.6 496.1 115.3 496.1 116.8 496.2C118.2 496.2 118.9 496.2 120.4 496.2C121.8 496.2 122.5 496.3 123.9 496.3C125.4 496.3 126.1 496.3 127.5 496.3C129.0 496.4 129.7 496.4 131.1 496.4C132.6 496.4 133.3 496.4 134.7 496.5C136.2 496.5 136.9 496.5 138.3 496.5C139.7 496.5 140.5 496.5 141.9 496.6C143.3 496.6 144.1 496.6 145.5 496.6C146.9 496.6 147.6 496.7 149.1 496.7C150.5 496.7 151.2 496.7 152.7 496.7C154.1 496.8 154.8 496.8 156.3 496.8C157.7 496.8 158.4 496.8 159.9 496.9C161.3 496.9 162.0 496.9 163.4 496.9C164.9 496.9 165.6 496.9 167.0 497.0C168.5 497.0 169.2 497.0 170.6 497.0C172.1 497.1 172.8 497.1 174.2 497.1C175.7 497.1 176.4 497.1 177.8 497.1C179.2 497.2 180.0 497.2 181.4 497.2C182.8 497.2 183.6 497.2 185.0 497.3C186.4 497.3 187.1 497.3 188.6 497.3C190.0 497.3 190.7 497.4 192.2 497.4C193.6 497.4 194.3 497.4 195.8 497.4C197.2 497.5 197.9 497.5 199.4 497.5C200.8 497.5 201.5 497.5 202.9 497.5C204.4 497.6 205.1 497.6 206.5 497.6C208.0 497.6 208.7 497.6 210.1 497.7C211.6 497.7 212.3 497.7 213.7 497.7C215.2 497.7 215.9 497.8 217.3 497.8C218.7 497.8 219.5 497.8 220.9 497.8C222.3 497.9 223.1 497.9 224.5 497.9C225.9 497.9 226.6 497.9 228.1 498.0C229.5 498.0 230.2 498.0 231.7 498.0C233.1 498.0 233.8 498.0 235.3 498.1C236.7 498.1 237.4 498.1 238.9 498.1C240.3 498.2 241.0 498.2 242.5 498.2C243.9 498.2 244.6 498.2 246.0 498.2C247.5 498.3 248.2 498.3 249.6 498.3C251.1 498.3 251.8 498.3 253.2 498.4C254.7 498.4 255.4 498.4 256.8 498.4C258.3 498.4 259.0 498.5 260.4 498.5C261.8 498.5 262.6 498.5 264.0 498.5C265.4 498.6 266.2 498.6 267.6 498.6C269.0 498.6 269.7 498.6 271.2 498.7C272.6 498.7 273.3 498.7 274.8 498.7C276.2 498.7 276.9 498.7 278.4 498.8C279.8 498.8 280.5 498.8 282.0 498.8C283.4 498.9 284.1 498.9 285.5 498.9C287.0 498.9 287.7 498.9 289.1 498.9C290.6 499.0 291.3 499.0 292.7 499.0C294.2 499.0 294.9 499.0 296.3 499.1C297.8 499.1 298.5 499.1 299.9 499.1C301.3 499.1 302.1 499.2 303.5 499.2C304.9 499.2 305.7 499.2 307.1 499.2C308.5 499.3 309.2 499.3 310.7 499.3C312.1 499.3 312.8 499.3 314.3 499.4C315.7 499.4 316.4 499.4 317.9 499.4C319.3 499.4 320.0 499.4 321.5 499.5C322.9 499.5 323.6 499.5 325.0 499.5C326.5 499.6 327.2 499.6 328.6 499.6C330.1 499.6 330.8 499.6 332.2 499.6C333.7 499.7 334.4 499.7 335.8 499.7C337.3 499.7 338.0 499.7 339.4 499.8C340.8 499.8 341.6 499.8 343.0 499.8C344.4 499.8 345.2 499.9 346.6 499.9C348.0 499.9 348.7 499.9 350.2 499.9C351.6 500.0 352.3 500.0 353.8 500.0C355.2 500.0 355.9 500.0 357.4 500.1C358.8 500.1 359.5 500.1 361.0 500.1C362.4 500.1 363.1 500.1 364.5 500.2C366.0 500.2 366.7 500.2 368.1 500.2C369.6 500.3 370.3 500.3 371.7 500.3C373.2 500.3 373.9 500.3 375.3 500.3C376.8 500.4 377.5 500.4 378.9 500.4C380.3 500.4 381.1 500.4 382.5 500.5C383.9 500.5 384.7 500.5 386.1 500.5C387.5 500.5 388.2 500.6 389.7 500.6C391.1 500.6 391.8 500.6 393.3 500.6C394.7 500.7 395.4 500.7 396.9 500.7C398.3 500.7 399.0 500.7 400.5 500.8C401.9 500.8 402.6 500.8 404.0 500.8C405.5 500.8 406.2 500.8 407.6 500.9C409.1 500.9 409.8 500.9 411.2 500.9C412.7 501.0 413.4 501.0 414.8 501.0C416.3 501.0 417.0 501.0 418.4 501.0C419.8 501.1 420.6 501.1 422.0 501.1C423.4 501.1 424.2 501.2 425.6 501.2C427.0 501.2 427.7 501.2 429.2 501.1C430.6 501.0 431.3 500.8 432.8 500.7C434.2 500.5 434.9 500.4 436.4 500.3C437.8 500.1 438.5 500.2 440.0 499.9C441.4 499.6 442.1 498.8 443.5 498.8C445.0 498.8 445.7 500.0 447.1 500.0C448.6 500.0 449.3 499.1 450.7 498.5C452.2 497.9 452.9 497.2 454.3 497.2C455.8 497.2 456.5 498.1 457.9 498.1C459.3 498.1 460.1 496.8 461.5 496.2C462.9 495.6 463.7 494.9 465.1 494.9C466.5 494.9 467.2 495.7 468.7 495.7C470.1 495.7 470.8 494.3 472.3 493.5C473.7 492.8 474.4 491.9 475.9 491.9C477.3 491.9 478.0 492.5 479.5 492.5C480.9 492.5 481.6 490.8 483.0 489.9C484.5 488.9 485.2 488.3 486.6 487.7C488.1 487.1 488.8 487.7 490.2 486.9C491.7 486.1 492.4 483.2 493.8 482.0C495.3 480.8 496.0 480.8 497.4 480.8C498.8 480.8 499.6 488.0 501.0 488.0C502.4 488.0 503.2 484.8 504.6 483.0C506.0 481.3 506.7 479.2 508.2 479.2C509.6 479.2 510.3 485.0 511.8 485.0C513.2 485.0 513.9 480.2 515.4 478.0C516.8 475.8 517.5 473.8 519.0 473.8C520.4 473.8 521.1 478.8 522.5 478.8C524.0 478.8 524.7 472.8 526.1 470.0C527.6 467.3 528.3 465.0 529.7 465.0C531.2 465.0 531.9 467.0 533.3 467.0C534.8 467.0 535.5 458.9 536.9 455.0C538.3 451.1 539.1 447.5 540.5 447.5C541.9 447.5 542.7 449.5 544.1 449.5C545.5 449.5 546.2 441.9 547.7 438.0C549.1 434.1 549.8 430.0 551.3 430.0C552.7 430.0 553.4 430.0 554.9 430.0C556.3 430.0 557.0 422.1 558.5 418.0C559.9 413.9 560.6 412.3 562.0 409.5C563.5 406.7 564.2 407.1 565.6 404.0C567.1 400.9 567.8 397.6 569.2 394.0C570.7 390.4 571.4 388.3 572.8 386.2C574.3 384.3 575.0 386.2 576.4 384.0C577.8 381.8 578.6 376.5 580.0 372.0C581.4 367.4 582.2 363.0 583.6 361.2C585.0 359.5 585.7 361.2 587.2 359.5C588.6 357.8 589.3 351.1 590.8 346.0C592.2 340.9 592.9 336.2 594.4 333.8C595.8 331.2 596.5 333.8 598.0 331.2C599.4 328.8 600.1 323.0 601.5 318.0C603.0 312.9 603.7 308.0 605.1 306.0C606.6 304.0 607.3 306.0 608.7 304.0C610.2 302.0 610.9 295.2 612.3 290.0C613.8 284.8 614.5 280.0 615.9 278.0C617.4 276.0 618.1 278.0 619.5 276.0C620.9 274.0 621.7 268.7 623.1 264.0C624.5 259.3 625.3 255.0 626.7 252.5C628.1 250.0 628.8 252.5 630.3 250.0C631.7 247.5 632.4 239.9 633.9 239.6C635.3 239.3 636.0 239.3 637.5 239.3C638.9 239.3 639.6 241.2 641.1 241.8C642.5 242.4 643.2 242.1 644.6 242.5C646.1 242.9 646.8 243.7 648.2 243.7C649.7 243.7 650.4 243.7 651.8 243.0C653.3 242.3 654.0 239.3 655.4 239.3C656.9 239.3 657.6 239.3 659.0 239.5C660.4 239.7 661.2 241.3 662.6 242.0C664.0 242.7 664.8 242.5 666.2 242.8C667.6 243.1 668.3 243.7 669.8 243.7C671.2 243.7 671.9 243.4 673.4 242.5C674.8 241.6 675.5 239.3 677.0 239.3C678.4 239.3 679.1 239.3 680.6 239.3C682.0 239.3 682.7 241.1 684.1 241.8C685.6 242.5 686.3 242.6 687.7 243.0C689.2 243.4 689.9 244.0 691.3 244.0C692.8 244.0 693.5 242.9 694.9 242.0C696.4 241.1 697.1 239.3 698.5 239.3C699.9 239.3 700.7 239.3 702.1 239.3C703.5 239.3 704.3 241.5 705.7 242.0C707.1 242.5 707.8 242.4 709.3 242.5C710.7 242.6 711.4 242.7 712.9 242.7C714.3 242.7 715.0 242.7 716.5 242.7C717.9 242.7 718.6 239.3 720.1 239.3C721.5 239.3 722.2 239.3 723.6 239.3C725.1 239.3 725.8 240.9 727.2 241.5C728.7 242.1 729.4 241.7 730.8 242.3C732.3 242.9 733.0 243.5 734.4 244.5C735.9 245.5 736.6 247.2 738.0 247.2C739.4 247.2 740.2 243.8 741.6 243.8C743.0 243.8 743.8 245.2 745.2 246.1C746.6 246.9 747.3 248.0 748.8 248.0C750.2 248.0 750.9 244.5 752.4 244.5C753.8 244.5 754.5 247.2 756.0 248.8C757.4 250.3 758.1 252.2 759.6 252.2C761.0 252.2 761.7 248.8 763.1 248.8C764.6 248.8 765.3 253.0 766.7 255.5C768.2 257.9 768.9 261.0 770.3 261.0C771.8 261.0 772.5 257.5 773.9 257.5C775.4 257.5 776.1 261.7 777.5 264.1C778.9 266.5 779.7 269.5 781.1 269.5C782.5 269.5 783.3 268.7 784.7 268.7C786.1 268.7 786.8 273.8 788.3 276.9C789.7 280.0 790.4 284.2 791.9 284.2C793.3 284.2 794.0 283.4 795.5 283.4C796.9 283.4 797.6 288.8 799.1 292.1C800.5 295.4 801.2 300.0 802.6 300.0C804.1 300.0 804.8 299.2 806.2 299.2C807.7 299.2 808.4 305.5 809.8 309.4C811.3 313.3 812.0 318.2 813.4 318.8C814.9 319.2 815.6 318.8 817.0 319.2C818.4 319.8 819.2 325.4 820.6 329.8C822.0 334.0 822.8 340.2 824.2 340.8C825.6 341.2 826.3 340.8 827.8 341.2C829.2 341.8 829.9 347.2 831.4 351.4C832.8 355.5 833.5 361.5 835.0 362.0C836.4 362.5 837.1 362.0 838.6 362.5C840.0 363.0 840.7 368.6 842.1 372.9C843.6 377.1 844.3 383.2 845.7 383.8C847.2 384.2 847.9 383.8 849.3 384.2C850.8 384.8 851.5 390.8 852.9 395.4C854.4 399.9 855.1 406.5 856.5 407.0C857.9 407.5 858.7 407.0 860.1 407.5C861.5 408.0 862.3 414.0 863.7 418.5C865.1 423.0 865.8 429.5 867.3 430.0C868.7 430.5 869.4 430.0 870.9 430.5C872.3 431.0 873.0 437.0 874.5 441.5C875.9 446.0 876.6 452.5 878.1 453.0C879.5 453.5 880.2 453.0 881.6 453.5C883.1 454.0 883.8 460.4 885.2 465.2C886.7 470.0 887.4 477.0 888.8 477.5C890.3 478.0 891.0 477.5 892.4 478.0C893.9 478.5 894.6 481.8 896.0 484.4C897.4 487.0 898.2 490.5 899.6 491.0C901.0 491.5 901.8 491.4 903.2 491.5C904.6 491.7 905.3 491.6 906.8 491.7C908.2 491.7 908.9 491.7 910.4 491.8C911.8 491.8 912.5 491.8 914.0 491.9C915.4 491.9 916.1 491.9 917.6 492.0C919.0 492.0 919.7 492.0 921.1 492.1C922.6 492.1 923.3 492.1 924.7 492.1C926.2 492.2 926.9 492.2 928.3 492.2C929.8 492.2 930.5 492.2 931.9 492.3C933.4 492.3 934.1 492.3 935.5 492.3C936.9 492.4 937.7 492.4 939.1 492.4C940.5 492.4 941.3 492.4 942.7 492.5C944.1 492.5 944.8 492.5 946.3 492.5C947.7 492.6 948.4 492.6 949.9 492.6C951.3 492.6 952.0 492.6 953.5 492.6C954.9 492.7 955.6 492.7 957.1 492.7C958.5 492.7 959.2 492.7 960.6 492.7C962.1 492.8 962.8 492.8 964.2 492.8C965.7 492.8 966.4 492.8 967.8 492.9C969.3 492.9 970.0 492.9 971.4 492.9C972.9 492.9 973.6 492.9 975.0 493.0C976.5 493.0 977.2 493.0 978.6 493.0C980.0 493.0 980.8 493.0 982.2 493.0C983.6 493.1 984.4 493.1 985.8 493.1C987.2 493.1 987.9 493.1 989.4 493.1C990.8 493.2 991.5 493.2 993.0 493.2C994.4 493.2 995.1 493.2 996.6 493.2C998.0 493.2 998.7 493.3 1000.2 493.3C1001.6 493.3 1002.3 493.3 1003.7 493.3C1005.2 493.3 1005.9 493.3 1007.3 493.4C1008.8 493.4 1009.5 493.4 1010.9 493.4C1012.4 493.4 1013.1 493.4 1014.5 493.4C1016.0 493.5 1016.7 493.5 1018.1 493.5C1019.5 493.5 1020.3 493.5 1021.7 493.5C1023.1 493.5 1023.9 493.5 1025.3 493.6C1026.7 493.6 1027.4 493.6 1028.9 493.6C1030.3 493.6 1031.0 493.6 1032.5 493.6C1033.9 493.7 1034.6 493.7 1036.1 493.7C1037.5 493.7 1038.2 493.7 1039.7 493.7C1041.1 493.7 1041.8 493.7 1043.2 493.8C1044.7 493.8 1045.4 493.8 1046.8 493.8C1048.3 493.8 1049.0 493.8 1050.4 493.8C1051.9 493.8 1052.6 493.9 1054.0 493.9C1055.5 493.9 1056.2 493.9 1057.6 493.9C1059.0 493.9 1059.8 493.9 1061.2 493.9C1062.6 494.0 1063.4 494.0 1064.8 494.0C1066.2 494.0 1066.9 494.0 1068.4 494.0C1069.8 494.0 1070.5 494.0 1072.0 494.0C1073.4 494.1 1074.1 494.1 1075.6 494.1C1077.0 494.1 1077.7 494.1 1079.2 494.1C1080.6 494.1 1081.3 494.1 1082.7 494.1C1084.2 494.2 1084.9 494.2 1086.3 494.2C1087.8 494.2 1088.5 494.2 1089.9 494.2C1091.4 494.2 1093.5 494.2 1093.5 494.2" fill="none" stroke="#35a826" stroke-width="2.1" stroke-linejoin="round"/>
<circle cx="562.3" cy="408.8" r="1.3" fill="#fff"/>
<circle cx="489.6" cy="487" r="4.3" fill="#6dbd5e" stroke="#35a826" stroke-width="1" opacity="0.9"/>
<!-- crosshair + markers -->
<!--MARKERS-->
<!-- legend -->
<g font-size="12.3" fill="#333">
<rect x="102" y="168.5" width="12" height="12" fill="#999"/>
<text x="121" y="179" textLength="115.4">Ισχύς προς το δίκτυο</text>
<rect x="263" y="168.5" width="12" height="12" fill="#92cf84"/>
<text x="282.3" y="179" textLength="134.5">Ισχύς προς την μπαταρία</text>
<rect x="444.5" y="168.5" width="12" height="12" fill="#fad967"/>
<text x="463.6" y="179" textLength="142.8">Καταναλώθηκε απευθείας</text>
<rect x="632.5" y="174.5" width="16" height="2" fill="#70afcd"/>
<text x="654.3" y="179" textLength="69.1">Κατανάλωση</text>
<rect x="748.7" y="174.5" width="16" height="2" fill="#3aaa28"/>
<text x="770.2" y="179" textLength="114.2">Κατάσταση φόρτισης</text>
<circle cx="918" cy="175" r="5.2" fill="#92cf84" stroke="#5fb350" stroke-width="1"/>
<text x="931.2" y="179" textLength="120.9">Κατάσταση μπαταρίας</text>
</g>

<!-- tooltip -->
<g>
<rect x="275.5" y="210.5" width="273" height="145" rx="2" fill="#000" opacity="0.09"/>
<rect x="274.5" y="209.5" width="273" height="145" rx="2" fill="#000" opacity="0.09"/>
<rect x="273.5" y="208.5" width="273" height="145" rx="2" fill="#f7f7f7" stroke="#dadada" stroke-width="1"/>
<g fill="#333">
<text x="282" y="232" font-size="14" font-weight="bold">11:35</text>
<g font-size="14.5">
<rect x="282" y="245" width="12" height="12" fill="#999"/>
<text x="303.5" y="256" textLength="134.4">Ισχύς προς το δίκτυο</text>
<rect x="282" y="266" width="12" height="12" fill="#92cf84"/>
<text x="303.5" y="277" textLength="157.6">Ισχύς προς την μπαταρία</text>
<rect x="282" y="287" width="12" height="12" fill="#fad967"/>
<text x="303.5" y="298" textLength="166.4">Καταναλώθηκε απευθείας</text>
<rect x="282" y="312.5" width="12" height="2" fill="#70afcd"/>
<text x="303.5" y="318.5" textLength="80.4">Κατανάλωση</text>
<rect x="282" y="333.5" width="12" height="2" fill="#3aaa28"/>
<text x="303.5" y="339.5" textLength="134.4">Κατάσταση φόρτισης</text>
</g>
<g font-size="14.5" font-weight="bold">
<g text-anchor="end">
<text x="520.5" y="256">36</text>
<text x="520.5" y="277">1736</text>
<text x="520.5" y="298">2215</text>
<text x="520.5" y="318.5">2625</text>
<text x="520.5" y="339.5">66</text>
</g>
<text x="526.2" y="256" textLength="11.8" lengthAdjust="spacingAndGlyphs">W</text>
<text x="526.2" y="277" textLength="11.8" lengthAdjust="spacingAndGlyphs">W</text>
<text x="526.2" y="298" textLength="11.8" lengthAdjust="spacingAndGlyphs">W</text>
<text x="526.2" y="318.5" textLength="11.8" lengthAdjust="spacingAndGlyphs">W</text>
<text x="526.5" y="339.5" font-size="13.5" textLength="9.8" lengthAdjust="spacingAndGlyphs">%</text>
</g>
</g>
</g>

<!-- misc icons -->
<g fill="none" stroke="#555" stroke-width="2" stroke-linecap="butt">
<path d="M49.8 82H35.5M41.8 74.7L34.5 82L41.8 89.3" stroke-linejoin="miter"/>
<circle cx="942.3" cy="84.3" r="8.2" stroke-width="1.8"/>
<path d="M942.3 83.3V89.4M942.3 79.6V81.6" stroke-width="1.9"/>
<path d="M1116 79.7V73.8H1122.9M1130.1 73.8H1137V79.7M1137 87.9V93.8H1130.1M1122.9 93.8H1116V87.9"/>
<path d="M44.3 797L36.8 804.5L44.3 812" stroke-width="2.6"/>
<path d="M326 797L333.5 804.5L326 812" stroke-width="2.6"/>
</g>

</svg>
</body>
</html>
